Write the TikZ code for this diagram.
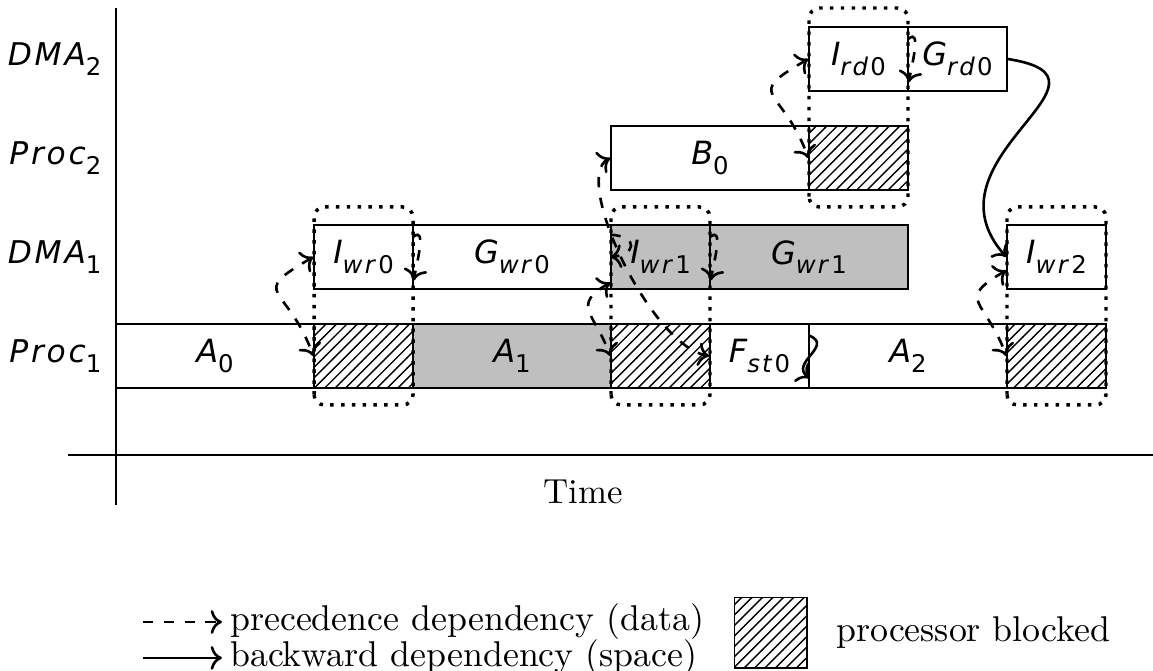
\documentclass[tikz,border=0pt]{standalone}
\usepackage{fontspec}
\usepackage{tikz}
\usetikzlibrary{arrows.meta,patterns}
\newfontfamily\schedfont{DejaVu Sans}[LetterSpace=9]
\newcommand{\schedlbl}[2]{{\schedfont\itshape #1\raisebox{-0.3em}{\fontsize{7}{8}\selectfont #2}}}
\tikzset{
  sched-task/.style={draw=black, line width=0.4pt, inner sep=0pt, minimum height=0.65cm,
    font=\fontsize{9.2}{10}\selectfont},
  sched-busy/.style={sched-task, fill=black!25},
  sched-blocked/.style={sched-task, pattern=north east lines},
  sched-window/.style={line width=1pt, dash pattern=on 1pt off 2.1pt, rounded corners=3pt},
  sched-row/.style={anchor=east, inner sep=0pt, font=\fontsize{9}{10}\selectfont}
}

\begin{document}
\begin{tikzpicture}[x=1cm, y=1cm]
  \useasboundingbox (-1.172,-2.182) rectangle (10.475,4.596);

  % Axes
  \coordinate (ybot) at (0,-0.505);
  \coordinate (ytop) at (0,4.515);
  \coordinate (xleft) at (-0.485,0);
  \coordinate (xright) at (10.475,0);
  \draw[line width=0.4pt] (ybot) -- (ytop);
  \draw[line width=0.4pt] (xleft) -- (xright);
  \node (time) at (4.717,-0.374) {Time};

  % Row labels
  \node[sched-row] (lp1) at (-0.14,1) {\schedlbl{Proc}{\textup{1}}};
  \node[sched-row] (ld1) at (-0.14,2) {\schedlbl{DMA}{\textup{1}}};
  \node[sched-row] (lp2) at (-0.14,3) {\schedlbl{Proc}{\textup{2}}};
  \node[sched-row] (ld2) at (-0.14,4) {\schedlbl{DMA}{\textup{2}}};

  % Proc1
  \node[sched-task, minimum width=2cm] (a0) at (1,1) {\schedlbl{A}{\textup{0}}};
  \node[sched-blocked, minimum width=1cm] (blk1) at (2.5,1) {};
  \node[sched-busy, minimum width=2cm] (a1) at (4,1) {\schedlbl{A}{\textup{1}}};
  \node[sched-blocked, minimum width=1cm] (blk2) at (5.5,1) {};
  \node[sched-task, minimum width=1cm] (fst0) at (6.5,1) {\schedlbl{F}{st\textup{0}}};
  \node[sched-task, minimum width=2cm] (a2) at (8,1) {\schedlbl{A}{\textup{2}}};
  \node[sched-blocked, minimum width=1cm] (blk3) at (9.5,1) {};

  % DMA1
  \node[sched-task, minimum width=1cm] (iwr0) at (2.5,2) {\schedlbl{I}{wr\textup{0}}};
  \node[sched-task, minimum width=2cm] (gwr0) at (4,2) {\schedlbl{G}{wr\textup{0}}};
  \node[sched-busy, minimum width=1cm] (iwr1) at (5.5,2) {\schedlbl{I}{wr\textup{1}}};
  \node[sched-busy, minimum width=2cm] (gwr1) at (7,2) {\schedlbl{G}{wr\textup{1}}};
  \node[sched-task, minimum width=1cm] (iwr2) at (9.5,2) {\schedlbl{I}{wr\textup{2}}};

  % Proc2
  \node[sched-task, minimum width=2cm] (b0) at (6,3) {\schedlbl{B}{\textup{0}}};
  \node[sched-blocked, minimum width=1cm] (blk4) at (7.5,3) {};

  % DMA2
  \node[sched-task, minimum width=1cm] (ird0) at (7.5,4) {\schedlbl{I}{rd\textup{0}}};
  \node[sched-task, minimum width=1cm] (grd0) at (8.5,4) {\schedlbl{G}{rd\textup{0}}};

  % Blocking windows
  \draw[sched-window] (2,0.505) rectangle (3,2.505);
  \draw[sched-window] (5,0.505) rectangle (6,2.505);
  \draw[sched-window] (7,2.505) rectangle (8,4.515);
  \draw[sched-window] (9,0.505) rectangle (10,2.505);

  % Precedence dependencies
  \draw[<->, dashed, line width=0.75pt] (iwr0.west) to[out=210, in=110, looseness=2] (blk1.west);
  \draw[<->, dashed, line width=0.75pt] (iwr1.207) to[out=210, in=110, looseness=1.6] (blk2.west);
  \draw[<->, dashed, line width=0.75pt] (ird0.west) to[out=210, in=110, looseness=2] (blk4.west);
  \draw[<->, dashed, line width=0.75pt] (iwr2.195) to[out=210, in=110, looseness=1.8] (blk3.west);
  \draw[->, dashed, line width=0.75pt] (iwr0.22) to[out=40, in=80] (iwr0.335);
  \draw[->, dashed, line width=0.75pt] (iwr1.22) to[out=40, in=80] (iwr1.335);
  \draw[->, dashed, line width=0.75pt] (ird0.22) to[out=40, in=80] (ird0.335);
  \draw[->, dashed, line width=0.75pt] (iwr1.156) .. controls +(0.3,-0.02) and +(0.25,0.02) .. (iwr1.west);
  \draw[<->, dashed, line width=0.75pt] (b0.west) .. controls (4.6,2.8) and (5.4,1.1) .. (fst0.west);

  % Backward dependencies
  \draw[->, line width=0.75pt] (grd0.east) .. controls (10.3,3.8) and (8.1,3.0) .. (iwr2.west);
  \draw[->, line width=0.75pt] (fst0.22) .. controls (7.25,1.1) and (6.8,0.93) .. (fst0.336);

  % Legend
  \coordinate (lga) at (0.27,-1.687);
  \coordinate (lgb) at (1.07,-1.687);
  \coordinate (lgc) at (0.27,-2.05);
  \coordinate (lgd) at (1.07,-2.05);
  \draw[->, dashed, line width=0.75pt] (lga) -- (lgb) node[right, inner sep=2pt, font=\fontsize{10.3}{12}\selectfont] (lgprec) {precedence dependency (data)};
  \draw[->, line width=0.75pt] (lgc) -- (lgd) node[right, inner sep=2pt, font=\fontsize{10.3}{12}\selectfont] (lgback) {backward dependency (space)};
  \node[sched-blocked, minimum width=0.73cm, minimum height=0.71cm] (lgblk) at (6.615,-1.797) {};
  \node[anchor=west, font=\fontsize{10.3}{12}\selectfont] (lgblktext) at (7.15,-1.79) {processor blocked};
\end{tikzpicture}
\end{document}
